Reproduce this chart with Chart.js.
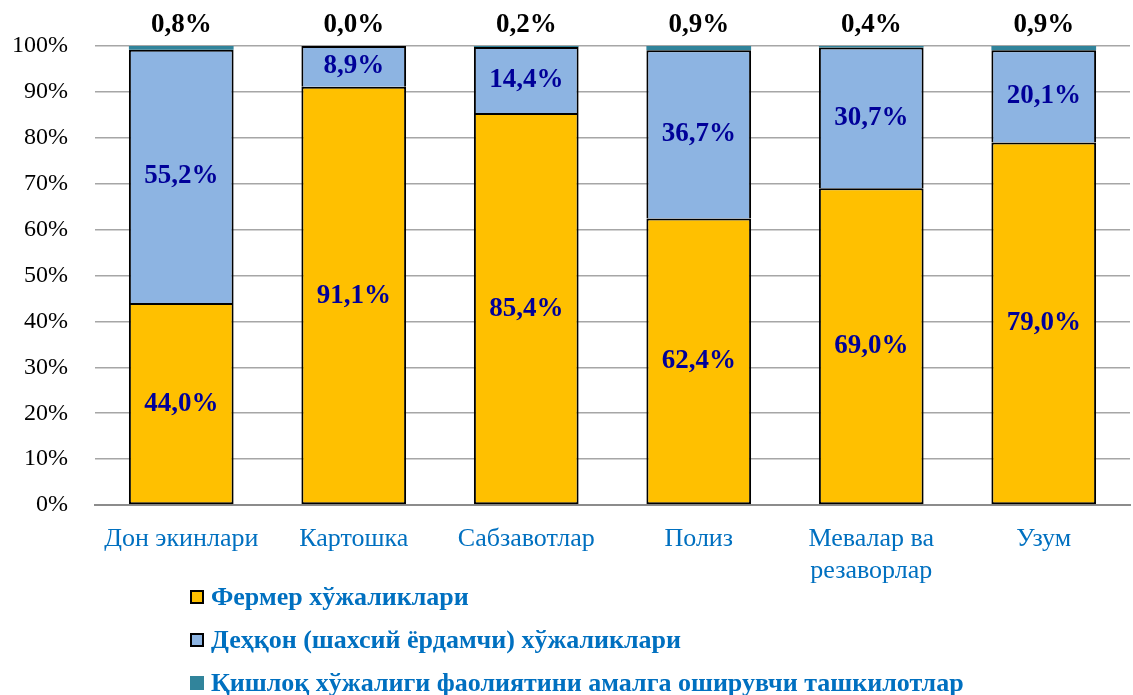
<!DOCTYPE html>
<html>
<head>
<meta charset="utf-8">
<script src="https://cdn.jsdelivr.net/npm/chart.js@4"></script>
<style>
  html, body { margin:0; padding:0; background:#fff; }
  #wrap { position:relative; width:1133px; height:695px; }
  #c { position:absolute; left:0; top:0; }
  .leg { position:absolute; left:190px; font-family:"Liberation Serif","Times New Roman",serif; font-weight:bold; font-size:26px; color:#0070C0; white-space:nowrap; line-height:28px; }
  .leg span.box { display:inline-block; width:14px; height:14px; margin-right:7px; vertical-align:1px; box-sizing:border-box; }
</style>
</head>
<body>
<div id="wrap">
  <canvas id="c" width="1133" height="695"></canvas>
  <div class="leg" style="top:583px"><span class="box" style="background:#FFC000;border:2px solid #000"></span>Фермер хўжаликлари</div>
  <div class="leg" style="top:626px"><span class="box" style="background:#8DB4E2;border:2px solid #000"></span>Деҳқон (шахсий ёрдамчи) хўжаликлари</div>
  <div class="leg" style="top:669px"><span class="box" style="background:#31849B"></span>Қишлоқ хўжалиги фаолиятини амалга оширувчи ташкилотлар</div>
</div>
<script>
const categories = ['Дон экинлари', 'Картошка', 'Сабзавотлар', 'Полиз', ['Мевалар ва', 'резаворлар'], 'Узум'];
const seriesNames = ['Фермер хўжаликлари', 'Деҳқон (шахсий ёрдамчи) хўжаликлари', 'Қишлоқ хўжалиги фаолиятини амалга оширувчи ташкилотлар'];
const farmers = [44.0, 91.1, 85.4, 62.4, 69.0, 79.0];
const dehqon = [55.2, 8.9, 14.4, 36.7, 30.7, 20.1];
const orgs = [0.8, 0.0, 0.2, 0.9, 0.4, 0.9];
const yTicks = [0, 10, 20, 30, 40, 50, 60, 70, 80, 90, 100];

const fmt = v => v.toFixed(1).replace('.', ',') + '%';

const labelPlugin = {
  id: 'segLabels',
  afterDatasetsDraw(chart) {
    const ctx = chart.ctx;
    ctx.save();
    ctx.font = 'bold 27px "Liberation Serif", "Times New Roman", serif';
    ctx.textAlign = 'center';
    ctx.textBaseline = 'middle';
    chart.data.datasets.forEach((ds, di) => {
      const meta = chart.getDatasetMeta(di);
      meta.data.forEach((el, i) => {
        const v = ds.data[i];
        if (di < 2) {
          ctx.fillStyle = '#000099';
          ctx.fillText(fmt(v), el.x, (el.y + el.base) / 2);
        } else {
          ctx.fillStyle = '#000000';
          ctx.fillText(fmt(v), el.x, Math.min(el.y, el.base) - 21);
        }
      });
    });
    ctx.restore();
  }
};

new Chart(document.getElementById('c'), {
  type: 'bar',
  data: {
    labels: categories,
    datasets: [
      { label: seriesNames[0], data: farmers, backgroundColor: '#FFC000', borderColor: '#000', borderWidth: 2, borderSkipped: false },
      { label: seriesNames[1], data: dehqon, backgroundColor: '#8DB4E2', borderColor: '#000', borderWidth: 2, borderSkipped: 'bottom' },
      { label: seriesNames[2], data: orgs, backgroundColor: '#31849B', borderWidth: 0 }
    ]
  },
  options: {
    responsive: false,
    animation: false,
    devicePixelRatio: 1,
    layout: { padding: { left: 10, right: 3, top: 46, bottom: 90 } },
    datasets: { bar: { barPercentage: 0.607, categoryPercentage: 1.0 } },
    plugins: { legend: { display: false }, tooltip: { enabled: false } },
    scales: {
      x: {
        stacked: true,
        afterFit: axis => { axis.paddingLeft = 0; axis.paddingRight = 0; },
        grid: { display: false, drawTicks: false },
        border: { display: true, color: '#8C8C8C', width: 2 },
        ticks: { color: '#0070C0', font: { family: '"Liberation Serif", "Times New Roman", serif', size: 26, lineHeight: 1.23 }, padding: 18, maxRotation: 0, autoSkip: false }
      },
      y: {
        stacked: true,
        min: 0, max: 100,
        afterBuildTicks: axis => { axis.ticks = yTicks.map(v => ({ value: v })); },
        afterFit: axis => { axis.width = 85; },
        grid: { color: '#A6A6A6', lineWidth: 1.5, drawTicks: false },
        border: { display: false },
        ticks: { color: '#000', font: { family: '"Liberation Serif", "Times New Roman", serif', size: 24 }, padding: 27, callback: v => v + '%' }
      }
    }
  },
  plugins: [labelPlugin]
});
</script>
</body>
</html>
